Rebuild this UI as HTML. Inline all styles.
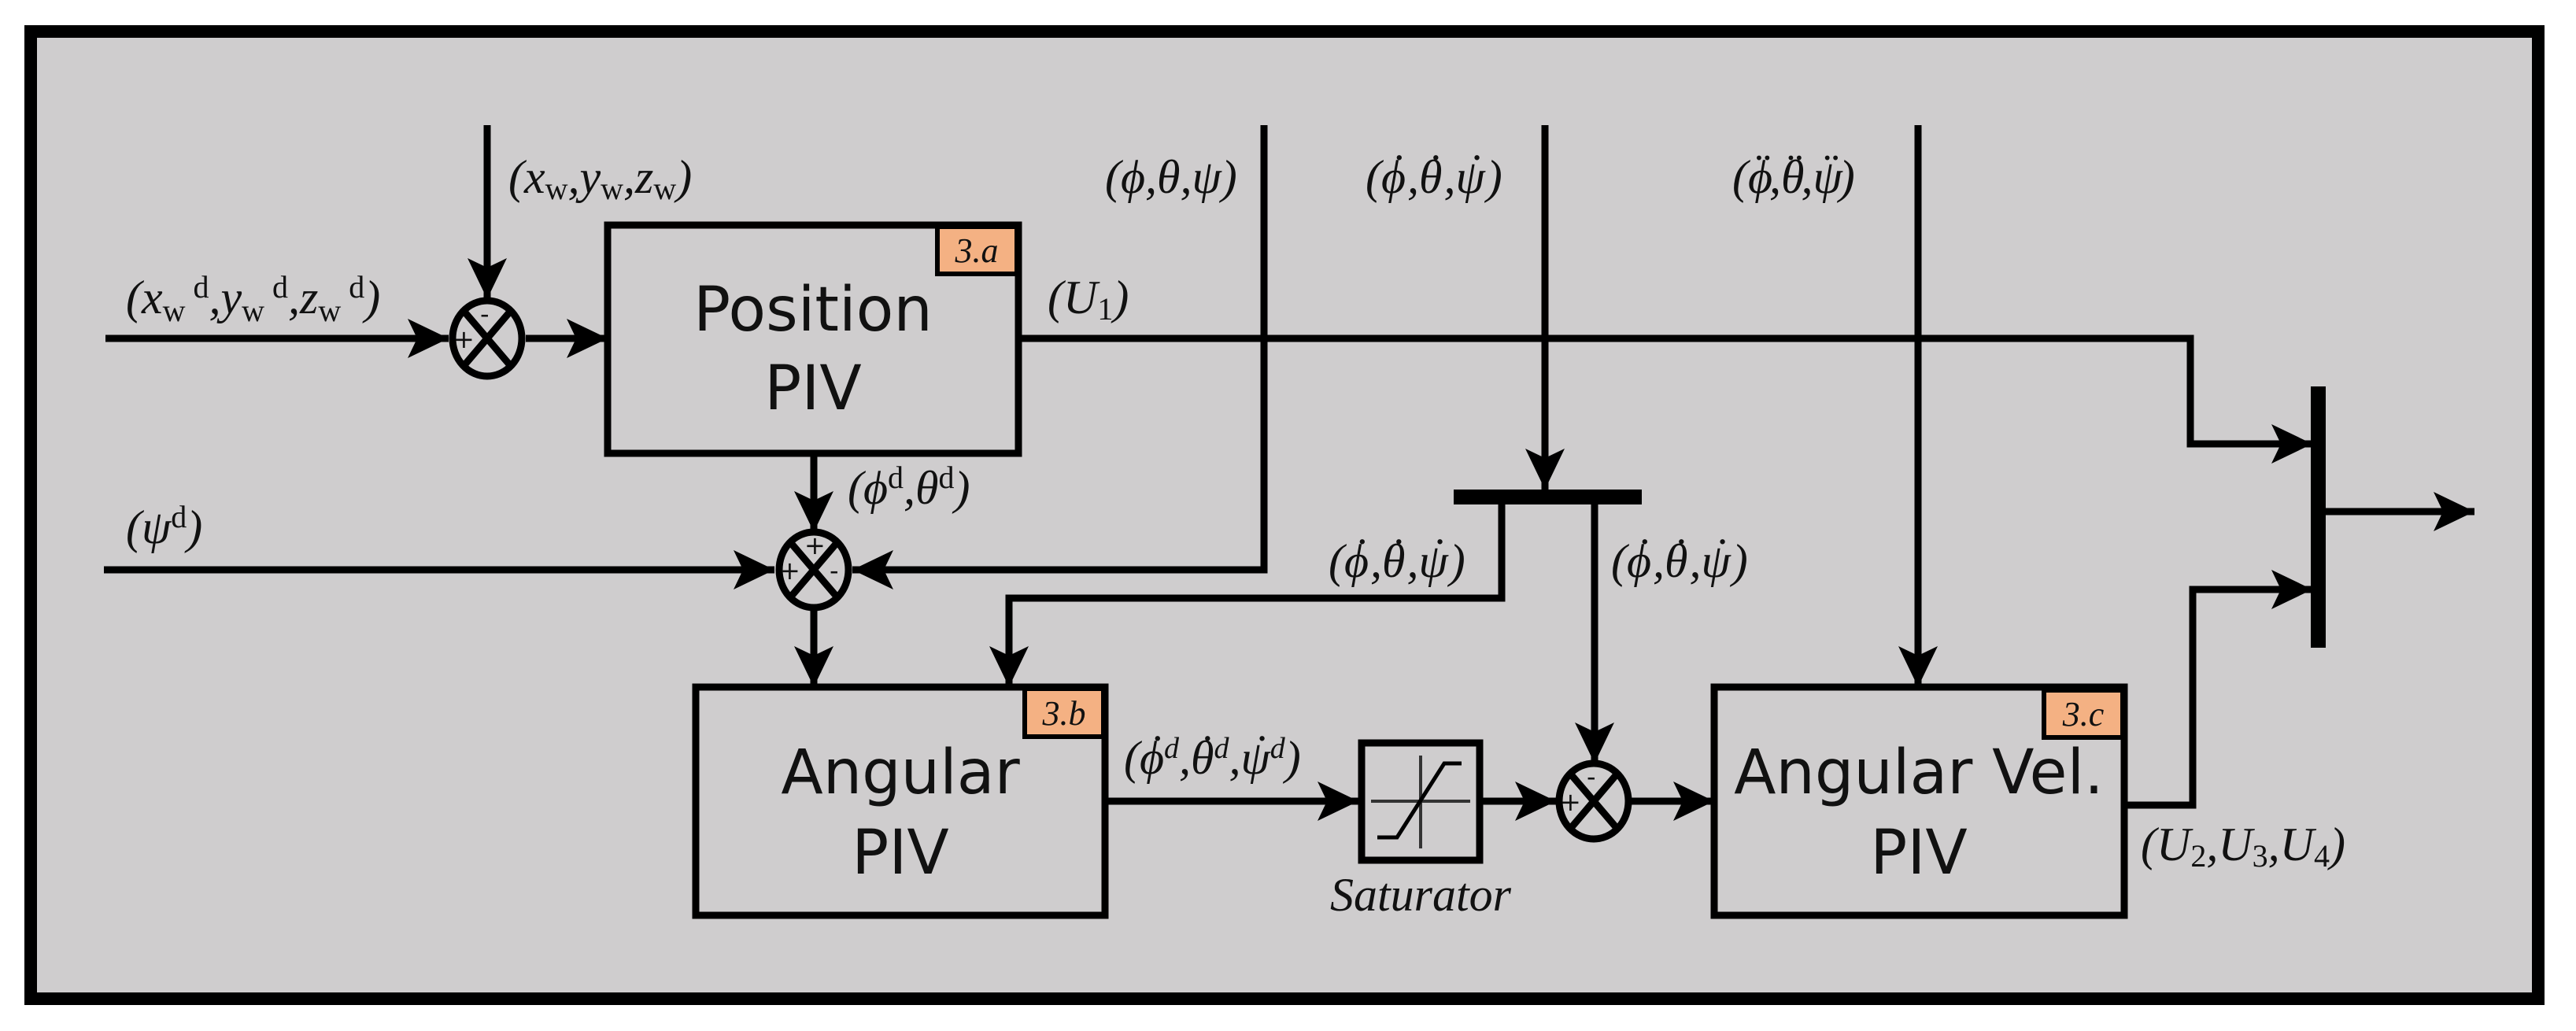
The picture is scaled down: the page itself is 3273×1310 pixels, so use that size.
<!DOCTYPE html>
<html><head><meta charset="utf-8"><style>
html,body{margin:0;padding:0;background:#fff;}
svg{display:block;}
.l{font-family:"Liberation Serif","DejaVu Serif",serif;font-style:italic;font-size:60px;fill:#111;}
.b{font-family:"DejaVu Sans","Liberation Sans",sans-serif;font-size:78px;fill:#111;text-anchor:middle;}
.t{font-family:"Liberation Serif",serif;font-style:italic;font-size:44px;fill:#111;text-anchor:middle;}
.s{font-family:"DejaVu Sans","Liberation Sans",sans-serif;font-size:32px;fill:#111;}
</style></head><body>
<svg width="3273" height="1310" viewBox="0 0 3273 1310" xmlns="http://www.w3.org/2000/svg">
<defs>
<marker id="a" markerUnits="userSpaceOnUse" viewBox="0 -26 52 52" refX="52" refY="0" markerWidth="52" markerHeight="52" orient="auto">
<path d="M0,-25 L52,0 L0,25 L12,0 Z" fill="#000"/>
</marker>
</defs>
<rect x="0" y="0" width="3273" height="1310" fill="#fff"/>
<rect x="39" y="40" width="3186" height="1229" fill="#cfcdce" stroke="#000" stroke-width="16"/>
<g fill="none" stroke="#000" stroke-width="9">
<line x1="134" y1="430" x2="570" y2="430" marker-end="url(#a)"/>
<line x1="619" y1="159" x2="619" y2="380" marker-end="url(#a)"/>
<line x1="668" y1="430" x2="772" y2="430" marker-end="url(#a)"/>
<rect x="772" y="286" width="522" height="290"/>
<polyline points="1294,430 2783,430 2783,564 2938,564" marker-end="url(#a)"/>
<polyline points="1606,159 1606,724 1083,724" marker-end="url(#a)"/>
<line x1="132" y1="724" x2="984" y2="724" marker-end="url(#a)"/>
<line x1="1034" y1="576" x2="1034" y2="676" marker-end="url(#a)"/>
<line x1="1034" y1="772" x2="1034" y2="873" marker-end="url(#a)"/>
<rect x="884" y="873" width="520" height="290"/>
<line x1="1963" y1="159" x2="1963" y2="622" marker-end="url(#a)"/>
<polyline points="1908,640 1908,760 1282,760 1282,873" marker-end="url(#a)"/>
<line x1="2026" y1="640" x2="2026" y2="970" marker-end="url(#a)"/>
<line x1="1404" y1="1018" x2="1726" y2="1018" marker-end="url(#a)"/>
<rect x="1730" y="944" width="150" height="149"/>
<line x1="1880" y1="1018" x2="1977" y2="1018" marker-end="url(#a)"/>
<line x1="2073" y1="1018" x2="2178" y2="1018" marker-end="url(#a)"/>
<line x1="2437" y1="159" x2="2437" y2="873" marker-end="url(#a)"/>
<rect x="2178" y="873" width="521" height="290"/>
<polyline points="2699,1023 2786,1023 2786,749 2938,749" marker-end="url(#a)"/>
<line x1="2953" y1="650" x2="3144" y2="650" marker-end="url(#a)"/>
<ellipse cx="619" cy="430" rx="44" ry="48"/>
<ellipse cx="1034" cy="724" rx="44" ry="48"/>
<ellipse cx="2025" cy="1018" rx="44" ry="48"/>
<path d="M590,396 L648,464 M648,396 L590,464"/>
<path d="M1005,690 L1063,758 M1063,690 L1005,758"/>
<path d="M1996,984 L2054,1052 M2054,984 L1996,1052"/>
</g>
<rect x="1847" y="622" width="239" height="19" fill="#000"/>
<rect x="2936" y="491" width="19" height="332" fill="#000"/>
<g stroke="#333" stroke-width="4" fill="none">
<line x1="1742" y1="1018" x2="1868" y2="1018"/>
<line x1="1805" y1="960" x2="1805" y2="1078"/>
</g>
<polyline points="1750,1064 1775,1064 1835,970 1857,970" fill="none" stroke="#000" stroke-width="5"/>
<text class="s" x="576" y="442">+</text><text class="s" x="610" y="410">-</text>
<text class="s" x="990" y="736">+</text><text class="s" x="1022" y="704">+</text><text class="s" x="1054" y="736">-</text>
<text class="s" x="1982" y="1030">+</text><text class="s" x="2016" y="998">-</text>
<rect x="1191" y="288" width="101" height="60" fill="#f4b183" stroke="#000" stroke-width="6"/>
<text class="t" x="1241" y="333">3.a</text>
<rect x="1302" y="875" width="100" height="61" fill="#f4b183" stroke="#000" stroke-width="6"/>
<text class="t" x="1352" y="921">3.b</text>
<rect x="2597" y="877" width="100" height="60" fill="#f4b183" stroke="#000" stroke-width="6"/>
<text class="t" x="2647" y="922">3.c</text>
<text class="b" x="1033" y="420">Position</text>
<text class="b" x="1033" y="520">PIV</text>
<text class="b" x="1144" y="1008">Angular</text>
<text class="b" x="1144" y="1110">PIV</text>
<text class="b" x="2438" y="1008">Angular Vel.</text>
<text class="b" x="2438" y="1110">PIV</text>
<text class="l" x="646" y="245">(x<tspan font-size="40" font-style="normal" dy="8">w</tspan><tspan dy="-8">,y</tspan><tspan font-size="40" font-style="normal" dy="8">w</tspan><tspan dy="-8">,z</tspan><tspan font-size="40" font-style="normal" dy="8">w</tspan><tspan dy="-8">)</tspan></text>
<text class="l" x="160" y="398">(x<tspan font-size="40" font-style="normal" dy="10">w</tspan><tspan font-size="40" font-style="normal" dy="-30"> d</tspan><tspan dy="20">,y</tspan><tspan font-size="40" font-style="normal" dy="10">w</tspan><tspan font-size="40" font-style="normal" dy="-30"> d</tspan><tspan dy="20">,z</tspan><tspan font-size="40" font-style="normal" dy="10">w</tspan><tspan font-size="40" font-style="normal" dy="-30"> d</tspan><tspan dy="20">)</tspan></text>
<text class="l" x="1404" y="245">(ϕ,θ,ψ)</text>
<text class="l" x="1331" y="398">(U<tspan font-size="40" font-style="normal" dy="8">1</tspan><tspan dy="-8">)</tspan></text>
<text class="l" x="1077" y="640">(ϕ<tspan font-size="40" font-style="normal" dy="-20">d</tspan><tspan dy="20">,θ</tspan><tspan font-size="40" font-style="normal" dy="-20">d</tspan><tspan dy="20">)</tspan></text>
<text class="l" x="160" y="690">(ψ<tspan font-size="40" font-style="normal" dy="-20">d</tspan><tspan dy="20">)</tspan></text>
<text class="l" x="1428" y="983">(ϕ<tspan dx="-22" dy="-8">˙</tspan><tspan font-size="38" dx="2" dy="-12">d</tspan><tspan dy="20">,θ</tspan><tspan dx="-22" dy="-8">˙</tspan><tspan font-size="38" dx="2" dy="-12">d</tspan><tspan dy="20">,ψ</tspan><tspan dx="-24" dy="-8">˙</tspan><tspan font-size="38" dx="4" dy="-12">d</tspan><tspan dy="20">)</tspan></text>
<text class="l" x="1735" y="245">(ϕ<tspan dx="-22" dy="-8">˙</tspan><tspan dx="4" dy="8">,θ</tspan><tspan dx="-22" dy="-8">˙</tspan><tspan dx="4" dy="8">,ψ</tspan><tspan dx="-24" dy="-8">˙</tspan><tspan dx="6" dy="8">)</tspan></text>
<text class="l" x="2201" y="245">(ϕ<tspan dx="-26" dy="-8">¨</tspan><tspan dx="2" dy="8">,θ</tspan><tspan dx="-26" dy="-8">¨</tspan><tspan dx="2" dy="8">,ψ</tspan><tspan dx="-28" dy="-8">¨</tspan><tspan dx="4" dy="8">)</tspan></text>
<text class="l" x="1688" y="733">(ϕ<tspan dx="-22" dy="-8">˙</tspan><tspan dx="4" dy="8">,θ</tspan><tspan dx="-22" dy="-8">˙</tspan><tspan dx="4" dy="8">,ψ</tspan><tspan dx="-24" dy="-8">˙</tspan><tspan dx="6" dy="8">)</tspan></text>
<text class="l" x="2047" y="733">(ϕ<tspan dx="-22" dy="-8">˙</tspan><tspan dx="4" dy="8">,θ</tspan><tspan dx="-22" dy="-8">˙</tspan><tspan dx="4" dy="8">,ψ</tspan><tspan dx="-24" dy="-8">˙</tspan><tspan dx="6" dy="8">)</tspan></text>
<text class="l" x="2720" y="1093">(U<tspan font-size="40" font-style="normal" dy="8">2</tspan><tspan dy="-8">,U</tspan><tspan font-size="40" font-style="normal" dy="8">3</tspan><tspan dy="-8">,U</tspan><tspan font-size="40" font-style="normal" dy="8">4</tspan><tspan dy="-8">)</tspan></text>
<text class="l" x="1805" y="1157" text-anchor="middle" font-size="54">Saturator</text>
</svg>
</body></html>
